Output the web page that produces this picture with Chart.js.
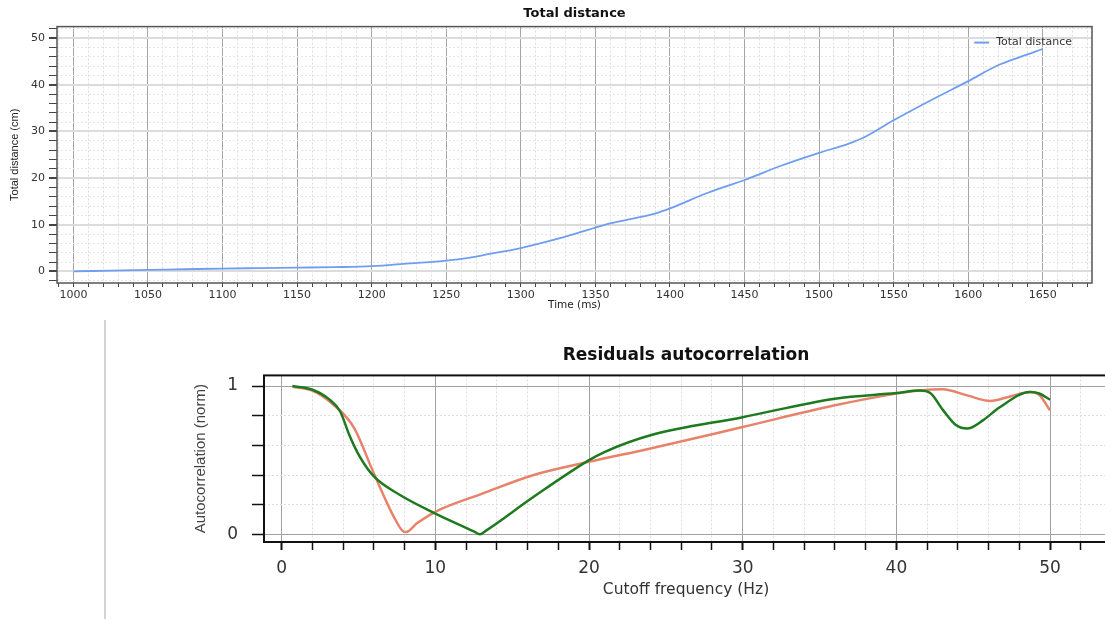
<!DOCTYPE html>
<html>
<head>
<meta charset="utf-8">
<script src="https://cdn.jsdelivr.net/npm/chart.js@4/dist/chart.umd.min.js"></script>
<style>
  html, body { margin: 0; padding: 0; background: #fff; overflow: hidden; }
  #wrap { position: relative; width: 1105px; height: 619px; }
  canvas { position: absolute; }
  #distChart { left: 0; top: 0; }
  #acChart { left: 110px; top: 320px; }
  #sep { position: absolute; left: 104px; top: 320px; width: 2px; height: 299px; background: #d4d4d4; }
</style>
</head>
<body>
<div id="wrap">
  <canvas id="distChart" width="1105" height="318"></canvas>
  <div id="sep"></div>
  <canvas id="acChart" width="1000" height="299"></canvas>
</div>
<script>
// top chart: total distance over time
const timeMs = [1000, 1025, 1050, 1075, 1100, 1125, 1150, 1175, 1200, 1225, 1250, 1265, 1280, 1300, 1325, 1350, 1360, 1375, 1390, 1400, 1425, 1450, 1475, 1500, 1520, 1530, 1550, 1575, 1600, 1620, 1635, 1650];
const totalDistance = [0, 0.15, 0.3, 0.45, 0.6, 0.7, 0.8, 0.9, 1.1, 1.7, 2.3, 2.9, 3.8, 5.0, 7.0, 9.4, 10.3, 11.3, 12.4, 13.5, 16.8, 19.6, 22.7, 25.4, 27.4, 28.7, 32.4, 36.7, 40.8, 44.2, 46.0, 47.7];
const timeLabels = [1000, 1050, 1100, 1150, 1200, 1250, 1300, 1350, 1400, 1450, 1500, 1550, 1600, 1650];
const distLabels = [0, 10, 20, 30, 40, 50];

// bottom chart: residuals autocorrelation
const freqGreen = [0.7, 2.0, 3.1, 3.8, 4.4, 5.1, 6.0, 7.7, 10, 12.5, 12.9, 13.3, 16.4, 20, 21, 24, 30, 36, 40, 41.5, 42.2, 43.05, 43.9, 44.6, 45.65, 46.7, 48.7, 49.3, 50];
const acGreen = [1.0, 0.975, 0.91, 0.83, 0.67, 0.52, 0.39, 0.265, 0.14, 0.02, 0.0, 0.025, 0.253, 0.50, 0.555, 0.668, 0.79, 0.915, 0.953, 0.97, 0.953, 0.836, 0.735, 0.713, 0.77, 0.855, 0.96, 0.95, 0.908];
const freqSalmon = [0.7, 2.0, 3.3, 4.7, 6.0, 7.3, 7.9, 8.1, 8.8, 10, 13.1, 16.4, 20, 24, 30, 36, 40, 41.5, 43, 44.6, 46.1, 47.4, 48.7, 49.3, 50];
const acSalmon = [0.995, 0.97, 0.88, 0.72, 0.41, 0.118, 0.02, 0.015, 0.074, 0.152, 0.276, 0.40, 0.489, 0.579, 0.724, 0.87, 0.949, 0.97, 0.978, 0.937, 0.90, 0.93, 0.96, 0.94, 0.836];
const freqLabels = [0, 10, 20, 30, 40, 50];
const acLabels = [0, 1];

const FONT = "'DejaVu Sans', 'Open Sans', sans-serif";
const NARROW = "'Liberation Sans Narrow', 'Liberation Sans', sans-serif";

function range(from, to, step) {
  const out = [];
  for (let v = from; v <= to + 1e-9; v += step) out.push(Math.round(v * 1000) / 1000);
  return out;
}
function isMajor(list, v) {
  return list.some(m => Math.abs(m - v) < 1e-6);
}
function toPoints(xs, ys) {
  return xs.map((x, i) => ({ x: x, y: ys[i] }));
}

const framePlugin = {
  id: 'frame',
  afterDatasetsDraw(chart, args, opts) {
    const { ctx, chartArea: a } = chart;
    ctx.save();
    ctx.strokeStyle = opts.color;
    ctx.lineWidth = opts.width;
    ctx.strokeRect(a.left, a.top, a.right - a.left, a.bottom - a.top);
    ctx.restore();
  }
};

// legend drawn inside the plot, top right
const innerLegend = {
  id: 'innerLegend',
  afterDraw(chart, args, opts) {
    if (!opts.display) return;
    const { ctx, chartArea: a } = chart;
    ctx.save();
    ctx.font = opts.font;
    let y = a.top + opts.offsetY;
    chart.data.datasets.forEach(ds => {
      const w = ctx.measureText(ds.label).width;
      const tx = a.right - opts.offsetX - w;
      ctx.fillStyle = opts.color;
      ctx.textBaseline = 'middle';
      ctx.fillText(ds.label, tx, y);
      ctx.strokeStyle = ds.borderColor;
      ctx.lineWidth = 2;
      ctx.beginPath();
      ctx.moveTo(tx - 22, y);
      ctx.lineTo(tx - 7, y);
      ctx.stroke();
      y += 16;
    });
    ctx.restore();
  }
};

// ---- Total distance ----
const timeMinor = range(990, 1680, 10);
const distMinor = range(-2, 52, 2);

new Chart(document.getElementById('distChart'), {
  type: 'line',
  data: {
    datasets: [{
      label: 'Total distance',
      data: toPoints(timeMs, totalDistance),
      borderColor: '#6f9ef0',
      backgroundColor: '#6f9ef0',
      borderWidth: 1.8,
      pointRadius: 0,
      tension: 0.4,
      cubicInterpolationMode: 'monotone'
    }]
  },
  options: {
    responsive: false,
    animation: false,
    layout: { padding: { left: 0, right: 13, top: 0, bottom: 0 } },
    plugins: {
      title: {
        display: true,
        text: 'Total distance',
        fullSize: false,
        color: '#111',
        font: { family: FONT, size: 13, weight: 'bold' },
        padding: { top: 6, bottom: 5 }
      },
      legend: { display: false },
      innerLegend: { display: true, font: "11px " + FONT, color: '#333', offsetX: 20, offsetY: 16 },
      tooltip: { enabled: false },
      frame: { color: '#555', width: 1.5 }
    },
    scales: {
      x: {
        type: 'linear',
        min: 989,
        max: 1683,
        afterBuildTicks: s => { s.ticks = timeMinor.map(v => ({ value: v })); },
        afterFit: s => { s.height = 35; },
        ticks: {
          autoSkip: false,
          maxRotation: 0,
          padding: 2,
          color: '#333',
          font: { family: FONT, size: 11 },
          callback: v => isMajor(timeLabels, v) ? String(v) : ''
        },
        grid: {
          color: c => c.tick && isMajor(timeLabels, c.tick.value) ? '#a6a6a6' : '#dedede',
          lineWidth: 1,
          tickLength: 4,
          tickColor: '#444'
        },
        border: { display: false, dash: c => c.tick && isMajor(timeLabels, c.tick.value) ? [] : [2, 2] },
        title: {
          display: true,
          text: 'Time (ms)',
          color: '#222',
          font: { family: FONT, size: 10.5 },
          padding: { top: 0, bottom: 6 }
        }
      },
      y: {
        type: 'linear',
        min: -2.5,
        max: 52.5,
        afterBuildTicks: s => { s.ticks = distMinor.map(v => ({ value: v })); },
        afterFit: s => { s.width = 57; },
        ticks: {
          autoSkip: false,
          padding: 4,
          color: '#333',
          font: { family: FONT, size: 11 },
          callback: v => isMajor(distLabels, v) ? String(v) : ''
        },
        grid: {
          color: c => c.tick && isMajor(distLabels, c.tick.value) ? '#dcdcdc' : '#e6e6e6',
          lineWidth: c => c.tick && isMajor(distLabels, c.tick.value) ? 2 : 1,
          tickLength: 8,
          tickColor: '#444'
        },
        border: { display: false, dash: c => c.tick && isMajor(distLabels, c.tick.value) ? [] : [2, 2] },
        title: {
          display: true,
          text: 'Total distance (cm)',
          color: '#222',
          font: { family: NARROW, size: 11 },
          padding: { top: 8, bottom: 0 }
        }
      }
    }
  },
  plugins: [framePlugin, innerLegend]
});

// ---- Residuals autocorrelation ----
const freqMinor = range(0, 52, 2);
const acMinor = range(0, 1, 0.2);

new Chart(document.getElementById('acChart'), {
  type: 'line',
  data: {
    datasets: [
      {
        label: 'green',
        data: toPoints(freqGreen, acGreen),
        borderColor: '#1e7a1e',
        borderWidth: 2.5,
        pointRadius: 0,
        tension: 0.4,
        cubicInterpolationMode: 'monotone'
      },
      {
        label: 'salmon',
        data: toPoints(freqSalmon, acSalmon),
        borderColor: '#e8826b',
        borderWidth: 2.5,
        pointRadius: 0,
        tension: 0.4,
        cubicInterpolationMode: 'monotone'
      }
    ]
  },
  options: {
    responsive: false,
    animation: false,
    layout: { padding: { left: 78, right: 2, top: 0, bottom: 0 } },
    plugins: {
      title: {
        display: true,
        text: 'Residuals autocorrelation',
        fullSize: false,
        color: '#111',
        font: { family: FONT, size: 17, weight: 'bold' },
        padding: { top: 25, bottom: 10 }
      },
      legend: { display: false },
      innerLegend: { display: false },
      tooltip: { enabled: false },
      frame: { color: '#111', width: 2 }
    },
    scales: {
      x: {
        type: 'linear',
        min: -1.15,
        max: 53.77,
        afterBuildTicks: s => { s.ticks = freqMinor.map(v => ({ value: v })); },
        afterFit: s => { s.height = 77; },
        ticks: {
          autoSkip: false,
          maxRotation: 0,
          padding: 8,
          color: '#333',
          font: { family: FONT, size: 17 },
          callback: v => isMajor(freqLabels, v) ? String(v) : ''
        },
        grid: {
          color: c => c.tick && isMajor(freqLabels, c.tick.value) ? '#a0a0a0' : '#dddddd',
          tickLength: 8,
          tickColor: '#111',
          tickWidth: c => c.tick && isMajor(freqLabels, c.tick.value) ? 2 : 1.5
        },
        border: { display: false, dash: c => c.tick && isMajor(freqLabels, c.tick.value) ? [] : [2, 2] },
        title: {
          display: true,
          text: 'Cutoff frequency (Hz)',
          color: '#333',
          font: { family: FONT, size: 15.5 },
          padding: { top: 0, bottom: 20 }
        }
      },
      y: {
        type: 'linear',
        min: -0.052,
        max: 1.072,
        afterBuildTicks: s => { s.ticks = acMinor.map(v => ({ value: v })); },
        afterFit: s => { s.width = 76; },
        ticks: {
          autoSkip: false,
          padding: 14,
          color: '#333',
          font: { family: FONT, size: 17 },
          callback: v => isMajor(acLabels, v) ? String(v) : ''
        },
        grid: {
          color: c => c.tick && isMajor(acLabels, c.tick.value) ? '#a0a0a0' : '#dddddd',
          tickLength: 12,
          tickColor: '#111',
          tickWidth: 1.5
        },
        border: { display: false, dash: c => c.tick && isMajor(acLabels, c.tick.value) ? [] : [2, 2] },
        title: {
          display: true,
          text: 'Autocorrelation (norm)',
          color: '#444',
          font: { family: NARROW, size: 15 },
          padding: { top: 4, bottom: 0 }
        }
      }
    }
  },
  plugins: [framePlugin, innerLegend]
});
</script>
</body>
</html>
